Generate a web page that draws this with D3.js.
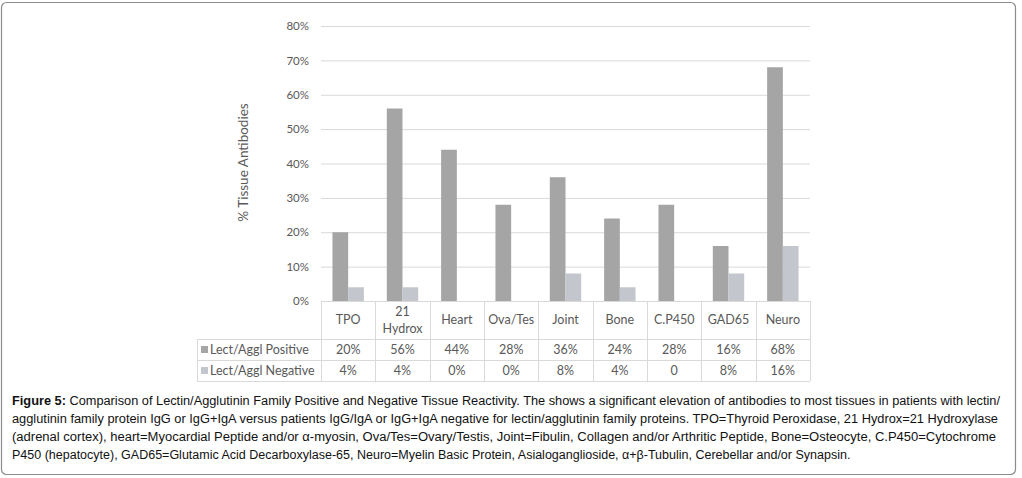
<!DOCTYPE html>
<html>
<head>
<meta charset="utf-8">
<script src="https://cdn.jsdelivr.net/npm/d3@7"></script>
<style>
  html, body { margin: 0; padding: 0; background: #fff; }
  svg { display: block; }
</style>
</head>
<body>
<div id="chart"></div>
<script>
// Lectin/Agglutinin tissue reactivity chart (Excel-style bar chart with data table)

var categories = ['TPO', '21 Hydrox', 'Heart', 'Ova/Tes', 'Joint', 'Bone', 'C.P450', 'GAD65', 'Neuro'];
var seriesNames = ['Lect/Aggl Positive', 'Lect/Aggl Negative'];
var positiveValues = [20, 56, 44, 28, 36, 24, 28, 16, 68];
var negativeValues = [4, 4, 0, 0, 8, 4, 0, 8, 16];
var positiveLabels = ['20%', '56%', '44%', '28%', '36%', '24%', '28%', '16%', '68%'];
var negativeLabels = ['4%', '4%', '0%', '0%', '8%', '4%', '0', '8%', '16%'];
var yTicks = [0, 10, 20, 30, 40, 50, 60, 70, 80];

var captionBold = 'Figure 5:';
var captionLines = [
    ' Comparison of Lectin/Agglutinin Family Positive and Negative Tissue Reactivity. The shows a significant elevation of antibodies to most tissues in patients with lectin/',
    'agglutinin family protein IgG or IgG+IgA versus patients IgG/IgA or IgG+IgA negative for lectin/agglutinin family proteins. TPO=Thyroid Peroxidase, 21 Hydrox=21 Hydroxylase',
    '(adrenal cortex), heart=Myocardial Peptide and/or \u03b1-myosin, Ova/Tes=Ovary/Testis, Joint=Fibulin, Collagen and/or Arthritic Peptide, Bone=Osteocyte, C.P450=Cytochrome',
    'P450 (hepatocyte), GAD65=Glutamic Acid Decarboxylase-65, Neuro=Myelin Basic Protein, Asialoganglioside, \u03b1+\u03b2-Tubulin, Cerebellar and/or Synapsin.'
];

var width = 1022, height = 478;
var colors = ['#a5a5a5', '#c3c6cc'];
var textColor = '#595959';
var gridColor = '#d9d9d9';
var font = 'Lato, "Open Sans", sans-serif';

var plot = { left: 321, right: 810, top: 26, bottom: 301 };
var table = { left: 197, headerBottom: 339, row1Bottom: 360, row2Bottom: 381 };

var svg = d3.select('#chart')
    .append('svg')
    .attr('width', width)
    .attr('height', height);

// outer frame
svg.append('rect')
    .attr('x', 1.5).attr('y', 2.5)
    .attr('width', 1014).attr('height', 472)
    .attr('rx', 5)
    .attr('fill', '#fff')
    .attr('stroke', '#8c8c8c')
    .attr('stroke-width', 1.2);

// --- Scales ---
var x0 = d3.scaleBand()
    .domain(categories)
    .range([plot.left, plot.right])
    .paddingInner(0)
    .paddingOuter(0);

var x1 = d3.scaleBand()
    .domain(seriesNames)
    .range([0, x0.bandwidth()])
    .paddingInner(0)
    .paddingOuter(0.73);

var y = d3.scaleLinear()
    .domain([0, 80])
    .range([plot.bottom, plot.top]);

// --- Gridlines ---
svg.append('g')
    .selectAll('line')
    .data(yTicks)
    .join('line')
    .attr('x1', plot.left)
    .attr('x2', plot.right)
    .attr('y1', function (d) { return y(d) + 0.5; })
    .attr('y2', function (d) { return y(d) + 0.5; })
    .attr('stroke', gridColor)
    .attr('stroke-width', 1);

// --- Y axis ---
var yAxis = d3.axisLeft(y)
    .tickValues(yTicks)
    .tickSize(0)
    .tickPadding(12)
    .tickFormat(function (d) { return d + '%'; });

var yAxisG = svg.append('g')
    .attr('transform', 'translate(' + plot.left + ',0)')
    .call(yAxis);
yAxisG.select('.domain').remove();
yAxisG.selectAll('text')
    .attr('fill', textColor)
    .attr('font-family', font)
    .attr('font-size', '11.5px');

svg.append('text')
    .attr('transform', 'translate(248,' + ((plot.top + plot.bottom) / 2 - 1) + ') rotate(-90)')
    .attr('text-anchor', 'middle')
    .attr('fill', textColor)
    .attr('font-family', font)
    .attr('font-size', '13.5px')
    .text('% Tissue Antibodies');

// --- Bars ---
var seriesData = [positiveValues, negativeValues];
var barGroup = svg.append('g');
seriesData.forEach(function (vals, si) {
    barGroup.append('g')
        .selectAll('rect')
        .data(vals)
        .join('rect')
        .attr('x', function (d, i) { return x0(categories[i]) + x1(seriesNames[si]); })
        .attr('width', x1.bandwidth())
        .attr('y', function (d) { return y(d); })
        .attr('height', function (d) { return y(0) - y(d); })
        .attr('fill', colors[si]);
});

// --- Data table ---
var tbl = svg.append('g')
    .attr('stroke', gridColor)
    .attr('stroke-width', 1)
    .attr('shape-rendering', 'crispEdges');

// horizontal lines
tbl.append('line')
    .attr('x1', plot.left).attr('x2', plot.right)
    .attr('y1', plot.bottom + 0.5).attr('y2', plot.bottom + 0.5);
[table.headerBottom, table.row1Bottom, table.row2Bottom].forEach(function (yy) {
    tbl.append('line')
        .attr('x1', table.left).attr('x2', plot.right)
        .attr('y1', yy + 0.5).attr('y2', yy + 0.5);
});

// vertical lines
tbl.append('line')
    .attr('x1', table.left + 0.5).attr('x2', table.left + 0.5)
    .attr('y1', table.headerBottom).attr('y2', table.row2Bottom);
var colEdges = categories.map(function (c) { return x0(c); }).concat([plot.right]);
tbl.selectAll('line.col')
    .data(colEdges)
    .join('line')
    .attr('class', 'col')
    .attr('x1', function (d) { return Math.round(d) + 0.5; })
    .attr('x2', function (d) { return Math.round(d) + 0.5; })
    .attr('y1', plot.bottom)
    .attr('y2', table.row2Bottom);

// header row (category labels)
var headerMid = (plot.bottom + table.headerBottom) / 2;
svg.append('g')
    .selectAll('text')
    .data(categories)
    .join('text')
    .attr('x', function (d) { return x0(d) + x0.bandwidth() / 2; })
    .attr('y', headerMid)
    .attr('text-anchor', 'middle')
    .attr('fill', textColor)
    .attr('font-family', font)
    .attr('font-size', '12.5px')
    .each(function (d) {
        var parts = d.split(' ');
        var t = d3.select(this);
        if (parts.length === 1) {
            t.append('tspan').attr('dy', '0.35em').text(d);
        } else {
            parts.forEach(function (p, k) {
                t.append('tspan')
                    .attr('x', x0(d) + x0.bandwidth() / 2)
                    .attr('dy', k === 0 ? '-0.3em' : '1.3em')
                    .text(p);
            });
        }
    });

// value rows
var rowLabels = [positiveLabels, negativeLabels];
var rowMids = [
    (table.headerBottom + table.row1Bottom) / 2,
    (table.row1Bottom + table.row2Bottom) / 2
];
rowLabels.forEach(function (labels, ri) {
    svg.append('g')
        .selectAll('text')
        .data(labels)
        .join('text')
        .attr('x', function (d, i) { return x0(categories[i]) + x0.bandwidth() / 2; })
        .attr('y', rowMids[ri])
        .attr('dy', '0.35em')
        .attr('text-anchor', 'middle')
        .attr('fill', textColor)
        .attr('font-family', font)
        .attr('font-size', '12.5px')
        .text(function (d) { return d; });

    // legend key + series name
    svg.append('rect')
        .attr('x', table.left + 4)
        .attr('y', rowMids[ri] - 3.5)
        .attr('width', 7)
        .attr('height', 7)
        .attr('fill', colors[ri]);
    svg.append('text')
        .attr('x', table.left + 13)
        .attr('y', rowMids[ri])
        .attr('dy', '0.35em')
        .attr('fill', textColor)
        .attr('font-family', font)
        .attr('font-size', '12.5px')
        .text(seriesNames[ri]);
});

// --- Caption ---
var cap = svg.append('g')
    .attr('font-family', '"Liberation Sans", Arial, sans-serif')
    .attr('font-size', '12.5px')
    .attr('fill', '#111');

var captionTop = 405, lineStep = 18, captionLeft = 12, captionRight = 1000;
captionLines.forEach(function (line, i) {
    var t = cap.append('text')
        .attr('x', captionLeft)
        .attr('y', captionTop + i * lineStep);
    if (i === 0) {
        t.append('tspan').attr('font-weight', 'bold').text(captionBold);
    }
    t.append('tspan').text(line);
    if (i < captionLines.length - 1) {
        t.attr('textLength', captionRight - captionLeft - (i === 0 ? 0 : i * 2))
            .attr('lengthAdjust', 'spacingAndGlyphs');
    }
});
</script>
</body>
</html>
